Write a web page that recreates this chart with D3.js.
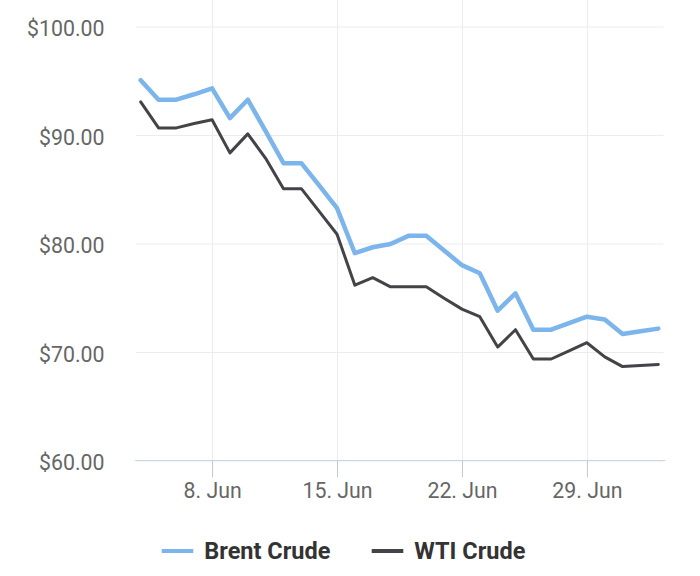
<!DOCTYPE html>
<html>
<head>
<meta charset="utf-8">
<script src="https://cdn.jsdelivr.net/npm/d3@7"></script>
<style>
  html, body { margin: 0; padding: 0; background: #ffffff; }
  svg { display: block; font-family: Roboto, "Noto Sans", sans-serif; }
</style>
</head>
<body>
<svg id="chart" width="700" height="576"></svg>
<script>
// ---- data ----
const dates = [
  "2022-06-04","2022-06-05","2022-06-06","2022-06-07","2022-06-08","2022-06-09","2022-06-10",
  "2022-06-11","2022-06-12","2022-06-13","2022-06-14","2022-06-15","2022-06-16","2022-06-17",
  "2022-06-18","2022-06-19","2022-06-20","2022-06-21","2022-06-22","2022-06-23","2022-06-24",
  "2022-06-25","2022-06-26","2022-06-27","2022-06-28","2022-06-29","2022-06-30","2022-07-01",
  "2022-07-02","2022-07-03"
];
const brent = [95.1, 93.3, 93.3, 93.8, 94.35, 91.6, 93.3, 90.4, 87.45, 87.45, 85.4, 83.3, 79.15, 79.7,
  80.0, 80.75, 80.75, 79.4, 78.05, 77.3, 73.85, 75.45, 72.1, 72.1, 72.7, 73.3, 73.05, 71.7, 71.95, 72.2];
const wti = [93.1, 90.7, 90.7, 91.1, 91.45, 88.4, 90.15, 87.9, 85.1, 85.1, 83.0, 80.9, 76.2, 76.9,
  76.05, 76.05, 76.05, 75.0, 74.0, 73.3, 70.5, 72.1, 69.4, 69.4, 70.15, 70.9, 69.6, 68.7, 68.8, 68.9];
const seriesNames = ["Brent Crude", "WTI Crude"];
const seriesColors = ["#7cb5ec", "#434348"];
const yTicks = [60, 70, 80, 90, 100];
const xTickDates = ["2022-06-08", "2022-06-15", "2022-06-22", "2022-06-29"];

// ---- layout ----
const svg = d3.select("#chart");
const pL = 136, pR = 663.5, pT = 27, pB = 461;
const parse = d3.utcParse("%Y-%m-%d");
const dd = dates.map(parse);
const hour = 3600 * 1000;
const x = d3.scaleUtc()
  .domain([new Date(+dd[0] - 6.3 * hour), new Date(+dd[dd.length - 1] + 7 * hour)])
  .range([pL, pR]);
const y = d3.scaleLinear().domain([60, 100]).range([pB, pT]);

// horizontal grid
svg.append("g").selectAll("line").data(yTicks).join("line")
  .attr("x1", pL).attr("x2", pR)
  .attr("y1", d => y(d)).attr("y2", d => y(d))
  .attr("stroke", "#ececec").attr("stroke-width", 1);

// vertical grid
const xt = xTickDates.map(parse);
svg.append("g").selectAll("line").data(xt).join("line")
  .attr("x1", d => Math.round(x(d)) + 0.5).attr("x2", d => Math.round(x(d)) + 0.5)
  .attr("y1", 0).attr("y2", pB)
  .attr("stroke", "#ececec").attr("stroke-width", 1);

// y axis labels
const yAxis = d3.axisLeft(y).tickValues(yTicks).tickSize(0).tickPadding(0)
  .tickFormat(d => "$" + d3.format(".2f")(d));
const gy = svg.append("g").attr("transform", `translate(104.5,0)`).call(yAxis);
gy.select(".domain").remove();
gy.selectAll("text").attr("fill", "#666666").attr("font-size", 21.3).attr("dy", "0.4em")
  .attr("font-family", "Roboto, sans-serif");

// x axis
const xAxis = d3.axisBottom(x).tickValues(xt).tickSize(17).tickPadding(5)
  .tickFormat(d3.utcFormat("%-d. %b"));
const gx = svg.append("g").attr("transform", `translate(0,${pB - 0.5})`).call(xAxis);
gx.select(".domain").attr("stroke", "#ccd6eb").attr("d", `M${pL - 1},0H${pR + 2}`);
gx.selectAll(".tick line").attr("stroke", "#c4c8cf");
gx.selectAll("text").attr("fill", "#666666").attr("font-size", 21.3)
  .attr("font-family", "Roboto, sans-serif");

// lines
const series = [brent, wti];
const widths = [4.5, 3];
const line = d3.line().x((d, i) => x(dd[i])).y(d => y(d)).curve(d3.curveLinear);
series.forEach((s, k) => {
  svg.append("path").datum(s)
    .attr("fill", "none")
    .attr("stroke", seriesColors[k])
    .attr("stroke-width", widths[k])
    .attr("stroke-linejoin", "round")
    .attr("stroke-linecap", "round")
    .attr("d", line);
});

// legend
const legendX = [161.7, 371.7];
const legend = svg.append("g");
seriesNames.forEach((name, k) => {
  const g = legend.append("g").attr("transform", `translate(${legendX[k]},551)`);
  g.append("line").attr("x1", 0).attr("x2", 31.6).attr("y1", 0).attr("y2", 0)
    .attr("stroke", seriesColors[k]).attr("stroke-width", 4);
  g.append("text").attr("x", 42.6).attr("y", 0).attr("dy", "0.35em")
    .attr("font-size", 23.5).attr("font-weight", "bold").attr("fill", "#333333")
    .attr("font-family", "Roboto, sans-serif")
    .text(name);
});
</script>
</body>
</html>
